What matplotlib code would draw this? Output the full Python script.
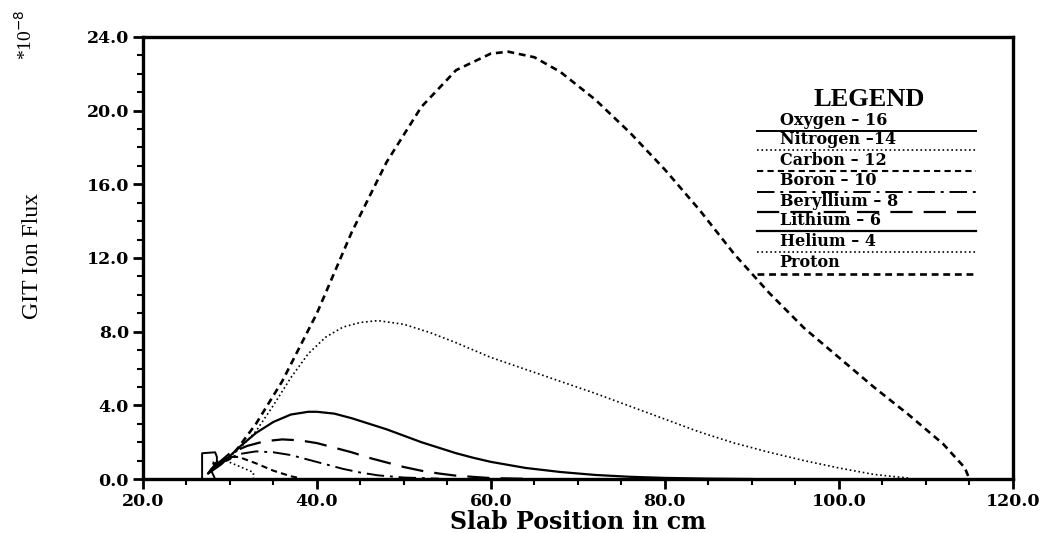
import matplotlib.pyplot as plt
from matplotlib.ticker import MultipleLocator, FormatStrFormatter

# slab position (cm) and GIT ion flux (units of 1e-8) for each ion
proton_x = [27.5, 28, 30, 33, 36, 40, 44, 48, 52, 56, 60, 62, 65, 68, 72, 76, 80,
            84, 88, 92, 96, 100, 104, 108, 112, 114.5, 115.0]
proton_y = [0.3, 0.6, 1.1, 3.0, 5.3, 9.0, 13.4, 17.2, 20.2, 22.2, 23.1, 23.2, 22.9,
            22.1, 20.6, 18.8, 16.8, 14.6, 12.2, 10.1, 8.2, 6.6, 5.0, 3.5, 1.9, 0.6, 0.0]

helium_x = [27.5, 29, 31, 33, 35, 37, 39, 41, 43, 45, 47, 50, 53, 56, 60, 64, 68,
            72, 76, 80, 84, 88, 92, 96, 100, 104, 108]
helium_y = [0.3, 0.9, 1.6, 2.6, 4.0, 5.5, 6.8, 7.7, 8.25, 8.5, 8.6, 8.4, 7.95, 7.4,
            6.6, 5.95, 5.3, 4.65, 3.95, 3.25, 2.55, 1.95, 1.45, 1.0, 0.6, 0.25, 0.05]

lithium_x = [27.5, 29, 31, 33, 35, 37, 39, 40, 42, 44, 46, 48, 50, 52, 54, 56, 58,
             60, 64, 68, 72, 76, 80, 85, 90]
lithium_y = [0.3, 0.8, 1.7, 2.5, 3.1, 3.5, 3.65, 3.65, 3.55, 3.3, 3.0, 2.7, 2.35,
             2.0, 1.7, 1.4, 1.15, 0.93, 0.6, 0.38, 0.22, 0.12, 0.06, 0.02, 0.0]

beryllium_x = [28, 30, 32, 34, 36, 38, 40, 42, 44, 46, 48, 50, 52, 54, 56, 60, 64]
beryllium_y = [0.6, 1.4, 1.8, 2.05, 2.15, 2.1, 1.95, 1.7, 1.45, 1.15, 0.9, 0.65,
               0.45, 0.3, 0.18, 0.05, 0.01]

boron_x = [28, 29, 31, 33, 35, 37, 39, 41, 43, 45, 47, 50, 54]
boron_y = [0.6, 0.9, 1.35, 1.5, 1.45, 1.3, 1.05, 0.8, 0.55, 0.35, 0.2, 0.08, 0.02]

carbon_x = [28, 30, 31, 33, 35, 37, 38]
carbon_y = [0.8, 1.2, 1.2, 0.85, 0.45, 0.15, 0.05]

nitrogen_x = [28, 29.5, 31, 32.5, 32.7, 32.7]
nitrogen_y = [0.9, 1.0, 0.7, 0.4, 0.35, 0.0]

oxygen_x = [26.8, 26.8, 28.3, 28.5, 28.5, 27.8, 28.3]
oxygen_y = [0.0, 1.4, 1.45, 1.2, 0.9, 0.5, 0.0]

names = ["Oxygen \u2013 16", "Nitrogen \u201314", "Carbon \u2013 12", "Boron \u2013 10",
         "Beryllium \u2013 8", "Lithium \u2013 6", "Helium \u2013 4", "Proton"]
styles = ["-", ":", (0, (3, 2)), (0, (9, 3, 1.5, 3)), (0, (10, 5)), "-", ":",
          (0, (2.6, 1.8))]
widths = [1.4, 1.2, 1.5, 1.4, 1.6, 1.6, 1.2, 1.9]
series = [(oxygen_x, oxygen_y), (nitrogen_x, nitrogen_y), (carbon_x, carbon_y),
          (boron_x, boron_y), (beryllium_x, beryllium_y), (lithium_x, lithium_y),
          (helium_x, helium_y), (proton_x, proton_y)]

fig = plt.figure(figsize=(10.55, 5.33), dpi=100)
ax = fig.add_axes([0.1355, 0.1013, 0.8245, 0.8293])

for (xs, ys), ls, lw in zip(series, styles, widths):
    ax.plot(xs, ys, color="black", linestyle=ls, linewidth=lw)

ax.set_xlim(20, 120)
ax.set_ylim(0, 24)
ax.xaxis.set_major_locator(MultipleLocator(20))
ax.xaxis.set_minor_locator(MultipleLocator(5))
ax.yaxis.set_major_locator(MultipleLocator(4))
ax.yaxis.set_minor_locator(MultipleLocator(1))
ax.xaxis.set_major_formatter(FormatStrFormatter("%.1f"))
ax.yaxis.set_major_formatter(FormatStrFormatter("%.1f"))

for s in ax.spines.values():
    s.set_linewidth(2.4)
ax.tick_params(which="major", direction="out", length=7, width=2, pad=3)
ax.tick_params(which="minor", direction="out", length=4, width=1.5)
for lab in ax.get_xticklabels() + ax.get_yticklabels():
    lab.set_fontfamily("DejaVu Serif")
    lab.set_fontweight("bold")
    lab.set_fontsize(12.5)

ax.set_xlabel("Slab Position in cm", fontfamily="DejaVu Serif", fontweight="bold",
              fontsize=17, labelpad=0)
fig.text(0.031, 0.52, "GIT Ion Flux", rotation=90, ha="center", va="center",
         fontfamily="Liberation Serif", fontsize=17)
fig.text(0.024, 0.935, "*10$^{-8}$", rotation=90, ha="center", va="center",
         fontfamily="Liberation Serif", fontsize=14)

# hand-drawn legend block: each name sits on a sample of its line style
ax.text(103.5, 20.6, "LEGEND", ha="center", va="center", fontfamily="Liberation Serif",
        fontweight="bold", fontsize=19)
line_levels = [18.9, 17.85, 16.7, 15.6, 14.5, 13.45, 12.3, 11.15]
for name, ls, lw, yl in zip(names, styles, widths, line_levels):
    ax.plot([90.6, 115.8], [yl, yl], color="black", linestyle=ls, linewidth=lw)
    ax.text(93.2, yl + 0.12, name, ha="left", va="bottom", fontfamily="DejaVu Serif",
            fontweight="bold", fontsize=11.5)

fig.savefig("out.png", dpi=100)
